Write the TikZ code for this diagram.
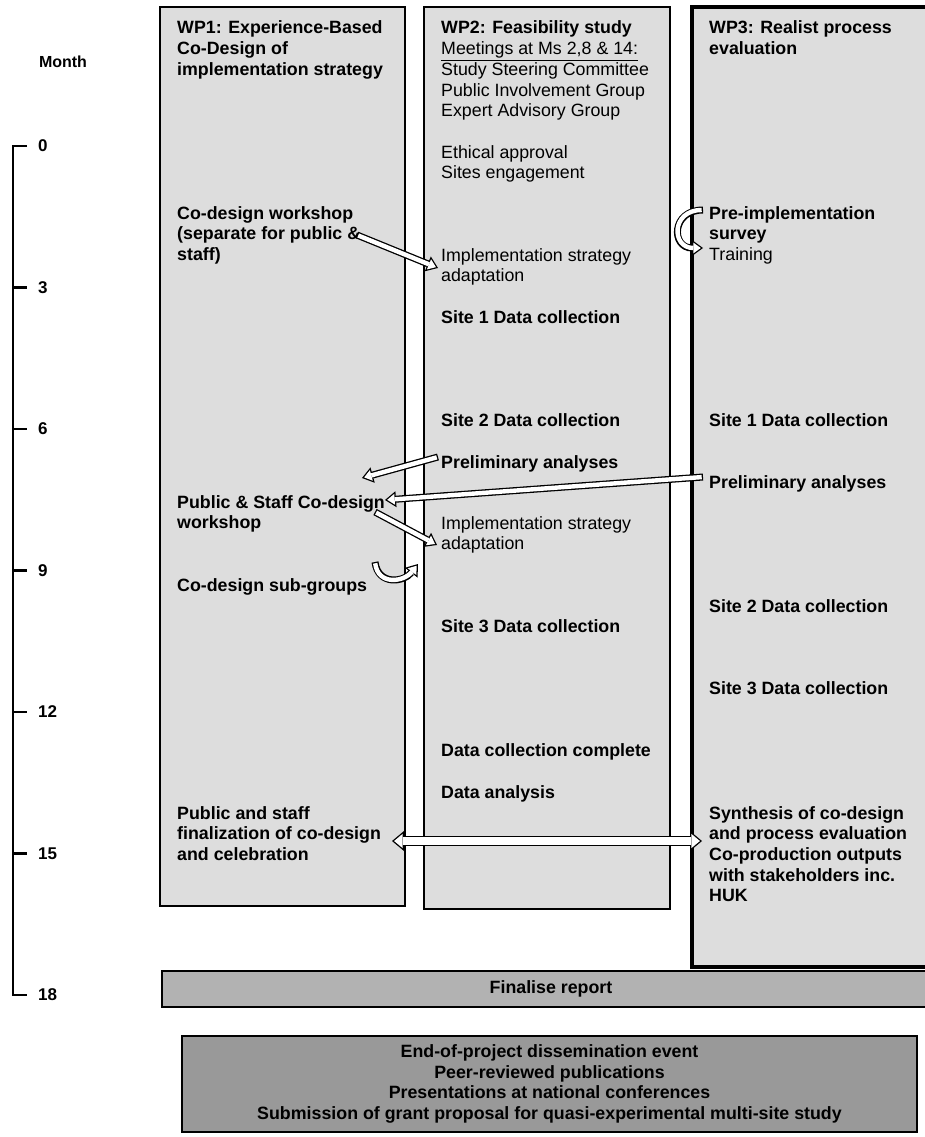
\documentclass[tikz,border=0pt]{standalone}
\usepackage{fontspec}
\setmainfont{Liberation Sans}
\usetikzlibrary{arrows.meta}
\definecolor{wpgray}{gray}{0.865}
\definecolor{reportgray}{gray}{0.70}
\definecolor{outputgray}{gray}{0.60}

\begin{document}
\begin{tikzpicture}[x=1pt,y=-1pt,
  wp/.style={draw,fill=wpgray,line width=2.2pt},
  txt/.style={anchor=base west,inner sep=0pt,align=left,font=\fontsize{17.8}{20.7}\selectfont},
  btxt/.style={txt,font=\fontsize{17.8}{20.7}\selectfont\bfseries},
  month/.style={anchor=west,inner sep=0pt,font=\fontsize{17}{20}\selectfont\bfseries},
  arr out/.style={line width=7pt,-{Triangle[length=11pt,width=16pt,line width=0pt]}},
  arr in/.style={white,line width=4.4pt,shorten <=1.3pt,shorten >=2.2pt,
    -{Triangle[length=7.5pt,width=10.9pt,line width=0pt]}},
  dbl out/.style={line width=10pt,
    {Triangle[length=12pt,width=20pt,line width=0pt]}-{Triangle[length=12pt,width=20pt,line width=0pt]}},
  dbl in/.style={white,line width=7.4pt,shorten <=2.1pt,shorten >=2.1pt,
    {Triangle[length=8.6pt,width=14.4pt,line width=0pt]}-{Triangle[length=8.6pt,width=14.4pt,line width=0pt]}}]

\clip (0,0) rectangle (925,1137);

% time line
\node[font=\fontsize{16}{19}\selectfont\bfseries] (monthlbl) at (63,62) {Month};
\draw[line width=2.5pt] (27,146) -- (13,146) -- (13,995) -- (27,995);
\foreach \m in {3,6,...,15}
  \draw[line width=2.5pt] (13,{146+\m*849/18}) -- (27,{146+\m*849/18});
\foreach \m in {0,3,...,18}
  \node[month] (m\m) at (38,{146+\m*849/18}) {\m};

% work packages
\draw[wp] (160,7) rectangle (405,906);
\draw[wp] (424,7) rectangle (670,909);
\draw[wp,line width=4pt] (692,7) rectangle (940,967);

% WP1 (multi-line nodes sit on the baseline of their last line)
\node[btxt] (wp1) at (177,75.4) {WP1: Experience-Based\\Co-Design of\\implementation strategy};
\node[btxt] (cdws) at (177,260.4) {Co-design workshop\\(separate for public \&\\staff)};
\node[btxt] (pscd) at (177,528.7) {Public \& Staff Co-design\\workshop};
\node[btxt] (subgrp) at (177,591) {Co-design sub-groups};
\node[btxt] (finlz) at (177,860.4) {Public and staff\\finalization of co-design\\and celebration};

% WP2
\node[txt] (wp2) at (441,116.8) {\textbf{WP2: Feasibility study}\\\underline{Meetings at Ms 2,8 \& 14:}\\Study Steering Committee\\Public Involvement Group\\Expert Advisory Group};
\node[txt] (ethics) at (441,178.7) {Ethical approval\\Sites engagement};
\node[txt] (adapta) at (441,281.7) {Implementation strategy\\adaptation};
\node[btxt] (sitea) at (441,323) {Site 1 Data collection};
\node[btxt] (siteb) at (441,426) {Site 2 Data collection};
\node[btxt] (prelima) at (441,468) {Preliminary analyses};
\node[txt] (adaptb) at (441,549.7) {Implementation strategy\\adaptation};
\node[btxt] (sitec) at (441,632) {Site 3 Data collection};
\node[btxt] (complete) at (441,756) {Data collection complete};
\node[btxt] (analysis) at (441,798) {Data analysis};

% WP3
\node[btxt] (wp3) at (709,54.7) {WP3: Realist process\\evaluation};
\node[txt] (preimp) at (709,260.4) {\textbf{Pre-implementation}\\\textbf{survey}\\Training};
\node[btxt] (sited) at (709,426) {Site 1 Data collection};
\node[btxt] (prelimb) at (709,488) {Preliminary analyses};
\node[btxt] (sitee) at (709,612) {Site 2 Data collection};
\node[btxt] (sitef) at (709,694) {Site 3 Data collection};
\node[btxt] (synth) at (709,901.8) {Synthesis of co-design\\and process evaluation\\Co-production outputs\\with stakeholders inc.\\HUK};

% report and outputs
\node[draw,fill=reportgray,line width=2.2pt,minimum width=778pt,minimum height=36pt,
  font=\fontsize{17.8}{20.7}\selectfont\bfseries] (report) at (551,989) {Finalise report};
\node[draw,fill=outputgray,line width=2.2pt,minimum width=735pt,minimum height=96pt,align=center,
  font=\fontsize{17.8}{20.5}\selectfont\bfseries] (dissem) at (549.5,1084)
  {End-of-project dissemination event\\Peer-reviewed publications\\Presentations at national conferences\\Submission of grant proposal for quasi-experimental multi-site study};

% arrows
\coordinate (a1s) at (357,235);
\coordinate (a1e) at (438,268);
\coordinate (a2s) at (438,457);
\coordinate (a2e) at (362,478);
\coordinate (a3s) at (703,477);
\coordinate (a3e) at (385,500);
\coordinate (a4s) at (375,512);
\coordinate (a4e) at (437,545);
\coordinate (c1s) at (375,562);
\coordinate (c1e) at (418,564);
\coordinate (c2s) at (703,210);
\coordinate (c2e) at (703,248);
\coordinate (d1) at (392,841);
\coordinate (d2) at (702,841);

\path (a1s) edge[arr out] (a1e) edge[arr in] (a1e)
      (a2s) edge[arr out] (a2e) edge[arr in] (a2e)
      (a3s) edge[arr out] (a3e) edge[arr in] (a3e)
      (a4s) edge[arr out] (a4e) edge[arr in] (a4e)
      (d1) edge[dbl out] (d2) edge[dbl in] (d2);
\draw[arr out] (c1s) .. controls +(3,24) and +(-14,18) .. (c1e);
\draw[arr in] (c1s) .. controls +(3,24) and +(-14,18) .. (c1e);
\draw[arr out] (c2s) .. controls +(-32,0) and +(-32,0) .. (c2e);
\draw[arr in] (c2s) .. controls +(-32,0) and +(-32,0) .. (c2e);
\end{tikzpicture}
\end{document}
